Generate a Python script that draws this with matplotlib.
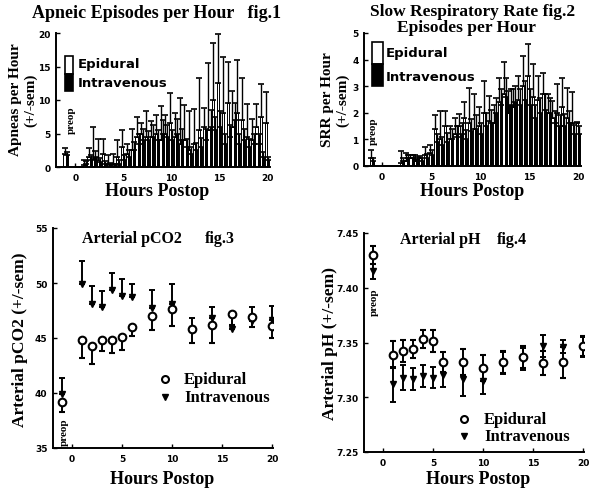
import numpy as np
import matplotlib
matplotlib.use('Agg')
import matplotlib.pyplot as plt
from matplotlib.patches import Rectangle

SERIF = 'Liberation Serif'
W, H = 592, 489

# ---- fig.1 apneic episodes per hour (half-hour bins) ----
bins = [0.5, 1.0, 1.5, 2.0, 2.5, 3.0, 3.5, 4.0, 4.5, 5.0,
        5.5, 6.0, 6.5, 7.0, 7.5, 8.0, 8.5, 9.0, 9.5, 10.0,
        10.5, 11.0, 11.5, 12.0, 12.5, 13.0, 13.5, 14.0, 14.5, 15.0,
        15.5, 16.0, 16.5, 17.0, 17.5, 18.0, 18.5, 19.0, 19.5, 20.0]
apnea_epi = [0, 0.3, 1.5, 1.2, 1.0, 2.0, 0.5, 0.5, 1.5, 3.0,
             2.0, 2.5, 4.5, 5.0, 4.5, 4.5, 5.0, 4.0, 5.0, 6.5,
             4.5, 3.5, 4.0, 2.5, 3.5, 5.5, 6.0, 5.5, 10.0, 12.5,
             8.0, 9.5, 6.0, 8.0, 7.0, 4.5, 4.0, 6.0, 7.5, 6.5]
apnea_epi_sem = [0, 0.7, 1.3, 4.7, 3.2, 2.2, 1.3, 1.5, 2.5, 2.5,
                 1.5, 3.1, 3.0, 1.5, 3.9, 2.3, 2.8, 5.1, 2.8, 4.6,
                 3.6, 6.8, 5.3, 5.8, 5.1, 7.8, 2.8, 10.0, 8.5, 7.3,
                 8.4, 6.1, 5.4, 7.9, 6.3, 4.9, 3.1, 3.4, 4.9, 4.7]
apnea_iv = [0, 0.5, 1.0, 1.5, 0.8, 0.5, 0.3, 0.2, 0.5, 1.0,
            1.5, 2.5, 3.5, 4.0, 4.0, 4.5, 4.0, 5.0, 4.5, 4.0,
            5.0, 4.0, 3.0, 2.0, 2.5, 3.0, 4.0, 6.0, 5.5, 6.0,
            3.5, 4.5, 7.0, 3.5, 4.0, 3.0, 3.5, 3.5, 1.5, 1.0]
apnea_iv_sem = [0, 0.4, 0.8, 0.9, 0.6, 0.4, 0.3, 0.2, 0.5, 0.8,
                1.0, 1.2, 1.5, 1.6, 1.4, 1.8, 1.5, 2.0, 1.7, 1.5,
                2.2, 1.6, 1.2, 1.0, 1.1, 1.3, 1.6, 2.5, 2.0, 2.4,
                1.5, 1.8, 2.6, 1.4, 1.6, 1.2, 1.4, 1.5, 0.8, 0.5]
apnea_preop = [2.0, 1.8]
apnea_preop_sem = [0.8, 0.5]

# ---- fig.2 slow respiratory rate episodes per hour ----
srr_epi = [0, 0, 0, 0.1, 0.2, 0.3, 0.2, 0.3, 0.4, 0.5,
           1.4, 1.0, 1.5, 1.0, 1.2, 1.5, 1.8, 1.6, 1.4, 1.5,
           2.0, 1.7, 1.6, 2.4, 2.7, 2.0, 2.2, 2.5, 3.0, 3.4,
           2.6, 2.5, 2.7, 2.0, 1.8, 2.0, 2.2, 1.8, 1.6, 1.6]
srr_epi_sem = [0, 0, 0, 0.47, 0.28, 0.1, 0.2, 0.08, 0.33, 0.28,
               0.5, 1.07, 0.57, 0.5, 0.6, 0.45, 0.6, 1.35, 1.3, 0.7,
               1.2, 0.94, 0.7, 0.9, 1.2, 0.83, 0.7, 0.9, 1.15, 1.2,
               1.24, 0.9, 0.8, 0.7, 0.65, 1.1, 1.1, 1.15, 1.17, 0.05]
srr_iv = [0, 0, 0, 0.2, 0.3, 0.3, 0.25, 0.2, 0.3, 0.4,
          0.9, 0.8, 0.9, 1.0, 1.1, 1.2, 1.0, 1.3, 1.4, 1.2,
          1.5, 1.6, 2.0, 2.3, 2.6, 2.3, 2.4, 2.3, 2.5, 2.3,
          1.8, 2.0, 2.1, 2.0, 1.6, 1.5, 1.5, 1.6, 1.2, 1.2]
srr_iv_sem = [0, 0, 0, 0.1, 0.1, 0.1, 0.1, 0.1, 0.15, 0.2,
              0.3, 0.3, 0.35, 0.4, 0.4, 0.4, 0.35, 0.45, 0.5, 0.4,
              0.5, 0.5, 0.55, 0.6, 0.7, 0.6, 0.6, 0.6, 0.7, 0.6,
              0.5, 0.55, 0.6, 0.55, 0.45, 0.4, 0.45, 0.45, 0.35, 0.3]
srr_preop = [0.3, 0.2]
srr_preop_sem = [0.3, 0.1]

# ---- fig.3 / fig.4 blood gases ----
gas_hours = [-1, 1, 2, 3, 4, 5, 6, 8, 10, 12, 14, 16, 18, 20]
pco2_epi = [39.2, 44.8, 44.3, 44.8, 44.8, 45.1, 46.0, 47.0, 47.6, 45.8, 46.2, 47.2, 46.9, 46.1]
pco2_epi_sem = [0.9, 1.6, 1.7, 1.0, 1.2, 1.2, 0.8, 1.3, 1.5, 1.3, 1.7, 1.0, 0.9, 1.1]
pco2_iv = [39.9, 49.9, 48.1, 47.8, 49.4, 48.8, 48.7, 47.7, 48.1, 45.8, 46.8, 45.8, 46.5, 46.6]
pco2_iv_sem = [1.5, 2.1, 1.6, 1.5, 1.5, 1.6, 1.2, 1.7, 1.8, 1.0, 1.0, 1.1, 1.3, 1.3]

ph_epi = [7.430, 7.339, 7.342, 7.344, 7.353, 7.351, 7.332, 7.332, 7.327, 7.332, 7.337, 7.331, 7.332, 7.347]
ph_epi_sem = [0.008, 0.012, 0.010, 0.008, 0.008, 0.010, 0.009, 0.012, 0.012, 0.010, 0.010, 0.011, 0.014, 0.009]
ph_iv = [7.415, 7.312, 7.318, 7.317, 7.319, 7.318, 7.320, 7.317, 7.315, 7.331, 7.335, 7.347, 7.346, 7.346]
ph_iv_sem = [0.007, 0.016, 0.011, 0.010, 0.010, 0.010, 0.011, 0.016, 0.012, 0.010, 0.010, 0.010, 0.006, 0.009]


def px_axes(fig, left, top, right, bottom):
    return fig.add_axes([left / W, 1 - bottom / H, (right - left) / W, (bottom - top) / H])


def style(ax, yticks, yfmt):
    for s in ['top', 'right']:
        ax.spines[s].set_visible(False)
    for s in ['left', 'bottom']:
        ax.spines[s].set_linewidth(1.4)
    ax.set_xticks([0, 5, 10, 15, 20])
    ax.set_yticks(yticks)
    ax.set_yticklabels([yfmt.format(v) for v in yticks])
    ax.tick_params(direction='in', length=3, width=1, labelsize=6.5)
    ax.tick_params(axis='x', pad=4)
    ax.tick_params(axis='y', pad=4)
    for lab in ax.get_xticklabels() + ax.get_yticklabels():
        lab.set_fontweight('bold')


def ftext(fig, x, y, s, **kw):
    kw.setdefault('fontfamily', SERIF)
    kw.setdefault('fontweight', 'bold')
    fig.text(x / W, 1 - y / H, s, **kw)


def bars(ax, epi, epi_sem, iv, iv_sem, preop, preop_sem):
    x = np.array([-1] + bins)
    e = np.array([preop[0]] + epi)
    es = np.array([preop_sem[0]] + epi_sem)
    v = np.array([preop[1]] + iv)
    vs = np.array([preop_sem[1]] + iv_sem)
    ax.bar(x - 0.11, e, 0.22, color='white', edgecolor='black', lw=0.7, zorder=2)
    ax.bar(x + 0.11, v, 0.22, color='black', edgecolor='black', lw=0.7, zorder=3)
    ax.errorbar(x - 0.11, e, yerr=[np.zeros_like(es), es], fmt='none',
                ecolor='black', elinewidth=1.0, capsize=2, capthick=1.2, zorder=4)
    ax.errorbar(x + 0.11, v, yerr=[np.zeros_like(vs), vs], fmt='none',
                ecolor='black', elinewidth=1.0, capsize=2, capthick=1.2, zorder=4)


def bar_legend(ax, x0, x1, ytop, ymid, ybot, xt, yt1, yt2):
    ax.add_patch(Rectangle((x0, ymid), x1 - x0, ytop - ymid, facecolor='white',
                           edgecolor='black', lw=1.2, zorder=5))
    ax.add_patch(Rectangle((x0, ybot), x1 - x0, ymid - ybot, facecolor='black',
                           edgecolor='black', lw=1.2, zorder=5))
    ax.text(xt, yt1, 'Epidural', fontsize=9.5, fontweight='bold', va='center')
    ax.text(xt, yt2, 'Intravenous', fontsize=9.5, fontweight='bold', va='center')


fig = plt.figure(figsize=(W / 100, H / 100), dpi=100)

# fig.1
ax1 = px_axes(fig, 56, 34, 270, 168)
bars(ax1, apnea_epi, apnea_epi_sem, apnea_iv, apnea_iv_sem, apnea_preop, apnea_preop_sem)
ax1.set_xlim(-2.0, 20.3)
ax1.set_ylim(0, 20)
style(ax1, [0, 5, 10, 15, 20], '{:d}')
bar_legend(ax1, -1.05, -0.25, 16.6, 13.9, 11.3, 0.3, 15.4, 12.6)
ax1.text(-0.45, 7.2, 'preop', rotation=90, fontsize=8, fontweight='bold',
         fontfamily=SERIF, ha='center', va='center')
ftext(fig, 32, 14, 'Apneic Episodes per Hour   fig.1', fontsize=13, va='center')
ftext(fig, 16, 100, 'Apneas per Hour', fontsize=11, rotation=90, ha='center', va='center')
ftext(fig, 31, 100, '(+/-sem)', fontsize=11, rotation=90, ha='center', va='center')
ftext(fig, 157, 192, 'Hours Postop', fontsize=13, ha='center', va='center')

# fig.2
ax2 = px_axes(fig, 364, 34, 581, 167)
bars(ax2, srr_epi, srr_epi_sem, srr_iv, srr_iv_sem, srr_preop, srr_preop_sem)
ax2.set_xlim(-1.85, 20.3)
ax2.set_ylim(0, 5)
style(ax2, [0, 1, 2, 3, 4, 5], '{:d}')
bar_legend(ax2, -1.0, 0.1, 4.66, 3.83, 3.0, 0.35, 4.28, 3.35)
ax2.text(-0.9, 1.35, 'preop', rotation=90, fontsize=8, fontweight='bold',
         fontfamily=SERIF, ha='center', va='center')
ftext(fig, 473, 12, 'Slow Respiratory Rate fig.2', fontsize=12.5, ha='center', va='center')
ftext(fig, 466, 28, 'Episodes per Hour', fontsize=12.5, ha='center', va='center')
ftext(fig, 328, 100, 'SRR per Hour', fontsize=11, rotation=90, ha='center', va='center')
ftext(fig, 343, 100, '(+/-sem)', fontsize=11, rotation=90, ha='center', va='center')
ftext(fig, 472, 192, 'Hours Postop', fontsize=13, ha='center', va='center')


def gas_panel(ax, epi, epi_err, iv, iv_err):
    ax.errorbar(gas_hours, iv, yerr=iv_err, fmt='v', ms=5, mfc='black', mec='black',
                ecolor='black', elinewidth=1.4, capsize=2.5, capthick=1.4, zorder=3)
    ax.errorbar(gas_hours, epi, yerr=epi_err, fmt='o', ms=5.5, mfc='white', mec='black',
                mew=1.5, ecolor='black', elinewidth=1.4, capsize=2.5, capthick=1.4, zorder=4)


# fig.3
ax3 = px_axes(fig, 53, 229, 273, 449)
z3 = np.zeros(len(gas_hours))
gas_panel(ax3, pco2_epi, [pco2_epi_sem, z3], pco2_iv, [z3, pco2_iv_sem])
ax3.set_xlim(-1.9, 20.1)
ax3.set_ylim(35, 55)
style(ax3, [35, 40, 45, 50, 55], '{:d}')
ax3.text(1.0, 54.1, 'Arterial pCO2', fontsize=11.5, fontweight='bold', fontfamily=SERIF, va='center')
ax3.text(13.3, 54.1, 'fig.3', fontsize=11.5, fontweight='bold', fontfamily=SERIF, va='center')
ax3.plot([9.3], [41.3], 'o', ms=5, mfc='white', mec='black', mew=1.5)
ax3.plot([9.3], [39.6], 'v', ms=5, color='black')
ax3.text(11.2, 41.3, 'Epidural', fontsize=12, fontweight='bold', fontfamily=SERIF, va='center')
ax3.text(11.2, 39.6, 'Intravenous', fontsize=12, fontweight='bold', fontfamily=SERIF, va='center')
ax3.text(-0.8, 36.5, 'preop', rotation=90, fontsize=8, fontweight='bold',
         fontfamily=SERIF, ha='center', va='center')
ftext(fig, 20, 340, 'Arterial pCO2 (+/-sem)', fontsize=12.5, rotation=90, ha='center', va='center')
ftext(fig, 162, 480, 'Hours Postop', fontsize=13, ha='center', va='center')

# fig.4
ax4 = px_axes(fig, 364, 234, 584, 453)
gas_panel(ax4, ph_epi, ph_epi_sem, ph_iv, ph_iv_sem)
ax4.set_xlim(-1.9, 20.1)
ax4.set_ylim(7.25, 7.45)
style(ax4, [7.25, 7.30, 7.35, 7.40, 7.45], '{:.2f}')
ax4.text(1.7, 7.4445, 'Arterial pH', fontsize=11.5, fontweight='bold', fontfamily=SERIF, va='center')
ax4.text(11.4, 7.4445, 'fig.4', fontsize=11.5, fontweight='bold', fontfamily=SERIF, va='center')
ax4.plot([8.1], [7.280], 'o', ms=5, mfc='white', mec='black', mew=1.5)
ax4.plot([8.1], [7.2647], 'v', ms=5, color='black')
ax4.text(10.1, 7.280, 'Epidural', fontsize=12, fontweight='bold', fontfamily=SERIF, va='center')
ax4.text(10.1, 7.2647, 'Intravenous', fontsize=12, fontweight='bold', fontfamily=SERIF, va='center')
ax4.text(-0.9, 7.388, 'preop', rotation=90, fontsize=8, fontweight='bold',
         fontfamily=SERIF, ha='center', va='center')
ftext(fig, 330, 343, 'Arterial pH (+/-sem)', fontsize=12.5, rotation=90, ha='center', va='center')
ftext(fig, 478, 480, 'Hours Postop', fontsize=13, ha='center', va='center')

fig.savefig('out.png', dpi=100)
